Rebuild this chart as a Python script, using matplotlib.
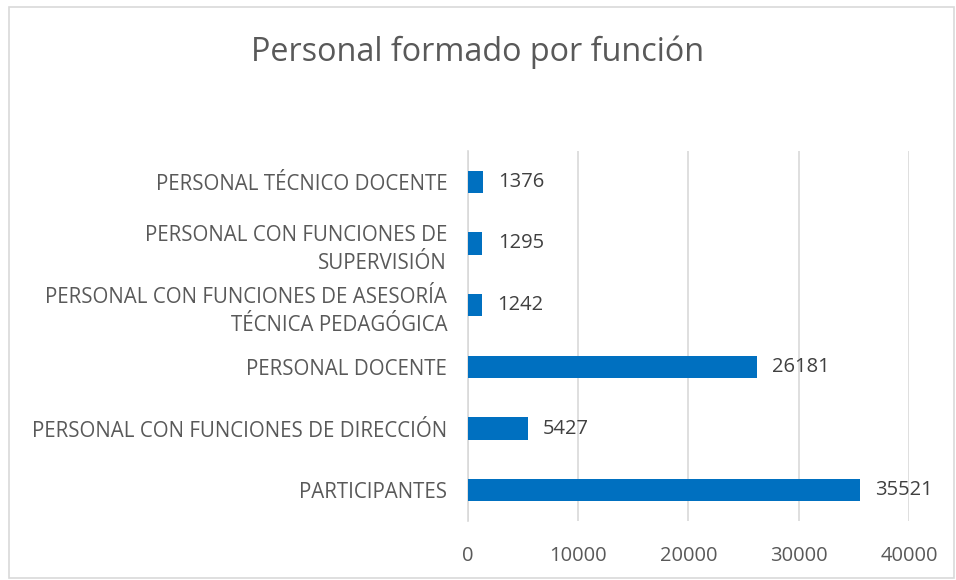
import matplotlib
matplotlib.use("Agg")
import matplotlib.pyplot as plt
from matplotlib.patches import Rectangle

categories = [
    "PARTICIPANTES",
    "PERSONAL CON FUNCIONES DE DIRECCIÓN",
    "PERSONAL DOCENTE",
    "PERSONAL CON FUNCIONES DE ASESORÍA\nTÉCNICA PEDAGÓGICA",
    "PERSONAL CON FUNCIONES DE\nSUPERVISIÓN",
    "PERSONAL TÉCNICO DOCENTE",
]
values = [35521, 5427, 26181, 1242, 1295, 1376]
xticks = [0, 10000, 20000, 30000, 40000]
title = "Personal formado por función"

plt.rcParams['font.family'] = ['Open Sans', 'DejaVu Sans']
text_color = "#595959"
bar_color = "#0070C0"
grid_color = "#D9D9D9"

fig = plt.figure(figsize=(9.56, 5.8), dpi=100)
fig.patches.append(Rectangle((0.009, 0.003), 0.989, 0.985, transform=fig.transFigure,
                             fill=False, edgecolor="#D9D9D9", linewidth=1.2))
ax = fig.add_axes([0.4895, 0.1017, 0.4613, 0.638])

y = list(range(len(categories)))
ax.barh(y, values, height=0.36, color=bar_color, zorder=3)
for yi, v in zip(y, values):
    ax.text(v + 1400, yi, str(v), va="center", ha="left", fontsize=14.5, color="#404040")

ax.set_xlim(0, 40000)
ax.set_ylim(-0.5, len(categories) - 0.5)
ax.set_xticks(xticks)
ax.set_xticklabels([str(t) for t in xticks])
ax.set_yticks(y)
ax.set_yticklabels(categories, linespacing=1.45)
ax.tick_params(axis="x", length=0, pad=18, labelsize=14.5, labelcolor=text_color)
ax.tick_params(axis="y", length=0, pad=15, labelsize=14.8, labelcolor=text_color)
ax.xaxis.grid(True, color=grid_color, linewidth=1.2, zorder=0)
for s in ["top", "right", "bottom"]:
    ax.spines[s].set_visible(False)
ax.spines["left"].set_color(grid_color)
ax.spines["left"].set_linewidth(1.2)

fig.text(0.5, 0.91, title, ha="center", va="center", fontsize=23.3, color=text_color)

fig.savefig("out.png", dpi=100)
